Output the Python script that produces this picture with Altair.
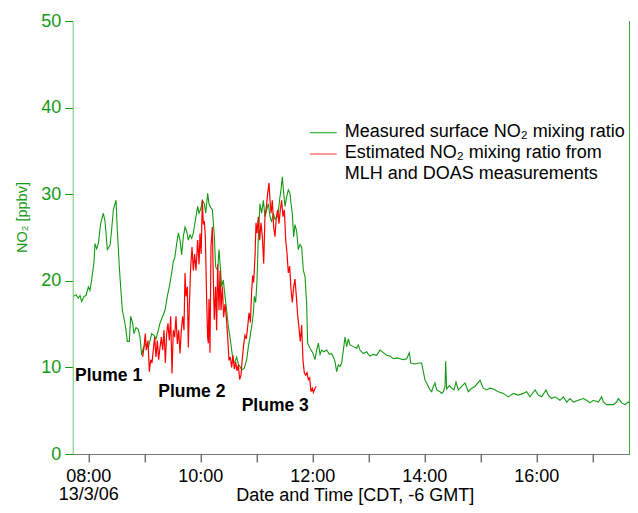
import altair as alt
import pandas as pd

# ---- data (decimal hours, CDT) ----
green_t = [7.733, 7.780, 7.822, 7.852, 7.882, 7.923, 7.959, 8.001, 8.030, 8.060, 8.102, 8.120, 8.149, 8.179,
           8.221, 8.268, 8.298, 8.340, 8.388, 8.417, 8.447, 8.495, 8.518, 8.554, 8.578, 8.608, 8.643, 8.673,
           8.697, 8.733, 8.757, 8.792, 8.816, 8.852, 8.893, 8.923, 8.953, 8.983, 9.030, 9.072, 9.102, 9.132,
           9.173, 9.209, 9.251, 9.280, 9.328, 9.370, 9.411, 9.447, 9.489, 9.518, 9.548, 9.578, 9.608, 9.638,
           9.667, 9.697, 9.727, 9.757, 9.786, 9.816, 9.846, 9.875, 9.905, 9.953, 9.977, 10.013, 10.036, 10.072,
           10.096, 10.132, 10.155, 10.191, 10.215, 10.251, 10.274, 10.310, 10.334, 10.358, 10.382, 10.411,
           10.441, 10.471, 10.501, 10.530, 10.560, 10.590, 10.620, 10.649, 10.679, 10.709, 10.739, 10.786,
           10.828, 10.858, 10.888, 10.917, 10.947, 10.965, 10.989, 11.013, 11.036, 11.066, 11.096, 11.126,
           11.155, 11.185, 11.215, 11.245, 11.274, 11.304, 11.334, 11.382, 11.423, 11.441, 11.465, 11.489,
           11.513, 11.542, 11.572, 11.602, 11.620, 11.643, 11.667, 11.691, 11.721, 11.750, 11.780, 11.810,
           11.840, 11.870, 11.899, 11.917, 11.959, 12.007, 12.048, 12.078, 12.108, 12.138, 12.167, 12.209,
           12.257, 12.304, 12.346, 12.376, 12.405, 12.435, 12.465, 12.495, 12.524, 12.554, 12.584, 12.614,
           12.643, 12.673, 12.733, 12.792, 12.822, 12.852, 12.911, 12.971, 13.001, 13.030, 13.090, 13.149,
           13.209, 13.268, 13.328, 13.388, 13.447, 13.507, 13.566, 13.626, 13.685, 13.733, 13.757, 13.834,
           13.893, 13.953, 13.983, 14.013, 14.042, 14.072, 14.102, 14.132, 14.161, 14.191, 14.221, 14.280,
           14.310, 14.340, 14.370, 14.382, 14.399, 14.447, 14.489, 14.530, 14.566, 14.608, 14.667, 14.727,
           14.786, 14.846, 14.905, 14.995, 15.054, 15.114, 15.173, 15.233, 15.322, 15.411, 15.501, 15.590,
           15.679, 15.768, 15.828, 15.887, 15.977, 16.036, 16.096, 16.173, 16.215, 16.275, 16.334, 16.423,
           16.483, 16.542, 16.602, 16.661, 16.750, 16.840, 16.899, 16.959, 17.018, 17.108, 17.167, 17.197,
           17.256, 17.375, 17.435, 17.465, 17.524, 17.584, 17.643, 17.703, 17.762, 17.792]
green_v = [18.2, 18.4, 18.0, 18.3, 17.6, 18.2, 18.3, 19.3, 18.9, 20.1, 22.2, 24.3, 23.7, 24.3,
           26.6, 27.8, 26.9, 23.6, 24.1, 25.9, 28.2, 29.3, 25.9, 21.6, 19.3, 16.6, 15.5, 14.3,
           13.0, 13.0, 15.9, 15.1, 13.9, 14.6, 14.4, 13.5, 11.4, 12.3, 12.7, 12.3, 13.1, 13.9,
           13.7, 13.3, 14.3, 15.1, 15.9, 16.6, 18.2, 19.3, 20.9, 22.2, 22.8, 24.3, 25.5, 24.7,
           23.0, 25.1, 26.2, 25.7, 24.7, 25.3, 24.9, 25.5, 26.7, 28.6, 27.8, 28.4, 29.3, 28.9,
           27.8, 30.1, 28.9, 28.4, 28.2, 25.1, 21.6, 21.2, 23.6, 21.6, 19.3, 20.1,
           18.2, 16.6, 14.7, 13.5, 12.0, 10.5, 10.7, 11.2, 10.4, 10.1, 9.7, 9.9,
           10.9, 12.4, 13.5, 14.7, 16.2, 18.2, 17.5, 20.1, 25.1, 28.9, 27.8, 29.3,
           27.4, 28.2, 28.9, 27.4, 26.8, 27.8, 27.1, 27.4, 29.7, 30.5, 32.0, 30.1,
           28.6, 29.7, 30.5, 30.1, 28.9, 27.8, 25.1, 26.5, 25.7, 23.6, 24.2, 23.9,
           21.2, 20.5, 17.4, 12.8, 12.2, 11.7, 10.9, 12.0, 12.8, 11.5, 12.0, 11.8,
           12.0, 11.5, 11.6, 11.2, 10.7, 9.5, 10.3, 10.1, 10.5, 12.0, 13.5, 12.4,
           13.3, 12.6, 12.4, 12.2, 12.6, 12.0, 11.6, 11.8, 11.5, 11.3, 11.5, 11.4,
           12.0, 11.7, 11.4, 11.3, 11.0, 11.1, 11.0, 10.9, 11.0, 11.7, 10.5, 10.4,
           10.5, 10.5, 9.5, 8.5, 8.2, 7.8, 7.4, 7.2, 7.8, 8.2, 7.4, 7.2,
           7.0, 7.2, 7.8, 10.7, 7.5, 7.9, 7.6, 7.4, 8.3, 7.4, 7.8, 8.2,
           7.2, 7.6, 7.8, 8.5, 7.6, 7.4, 7.6, 7.5, 7.2, 7.0, 6.6, 7.0,
           6.8, 7.0, 7.2, 6.6, 7.4, 6.8, 6.6, 7.4, 6.8, 6.4, 6.6, 6.2,
           6.6, 6.0, 6.4, 6.0, 6.2, 6.4, 6.2, 5.9, 6.2, 6.0, 6.6, 6.0,
           5.7, 5.7, 6.0, 6.4, 5.9, 5.7, 6.0, 5.7, 6.2, 6.0]

red_t = [8.971, 8.995, 9.018, 9.036, 9.066, 9.090, 9.114, 9.137, 9.161, 9.185, 9.209, 9.233, 9.256,
         9.280, 9.304, 9.328, 9.352, 9.376, 9.399, 9.423, 9.447, 9.471, 9.495, 9.518, 9.542, 9.566,
         9.590, 9.614, 9.638, 9.661, 9.685, 9.709, 9.727, 9.745, 9.768, 9.786, 9.804, 9.828, 9.852,
         9.876, 9.899, 9.923, 9.953, 9.977, 9.995, 10.015, 10.036, 10.054, 10.072, 10.090, 10.113,
         10.131, 10.143, 10.155, 10.173, 10.191, 10.215, 10.233, 10.250, 10.274, 10.292, 10.310,
         10.334, 10.352, 10.370, 10.394, 10.417, 10.441, 10.465, 10.489, 10.513, 10.536, 10.560,
         10.584, 10.608, 10.632, 10.655, 10.679, 10.703, 10.727, 10.750, 10.774, 10.798, 10.822,
         10.846, 10.870, 10.894, 10.917, 10.935, 10.953, 10.977, 10.995, 11.013, 11.036, 11.060,
         11.084, 11.108, 11.132, 11.155, 11.179, 11.203, 11.227, 11.245, 11.263, 11.286, 11.310,
         11.334, 11.358, 11.382, 11.405, 11.429, 11.453, 11.477, 11.501, 11.525, 11.548, 11.572,
         11.596, 11.620, 11.643, 11.667, 11.691, 11.715, 11.739, 11.763, 11.786, 11.810, 11.834,
         11.857, 11.881, 11.905, 11.929, 11.953, 11.977, 12.001, 12.019, 12.048, 12.070]
red_v = [11.2, 12.3, 13.9, 12.0, 13.1, 9.5, 10.9, 10.5, 12.0, 13.5, 11.2, 13.1, 10.9,
         12.3, 13.5, 12.0, 14.3, 10.5, 13.9, 15.1, 13.1, 15.9, 9.3, 14.3, 13.5, 15.9,
         12.7, 14.3, 11.6, 14.3, 15.9, 14.3, 20.9, 18.2, 19.3, 12.3, 17.0, 21.6, 23.9,
         21.2, 23.1, 21.2, 24.7, 21.9, 25.5, 23.1, 29.3, 26.5, 26.9, 25.1, 17.9,
         13.5, 12.8, 17.9, 11.7, 24.0, 26.2, 20.1, 15.5, 19.3, 14.3, 21.9,
         16.6, 21.2, 16.6, 19.3, 15.8, 17.3, 15.8, 13.5, 10.8, 11.2, 10.0,
         11.4, 9.8, 10.6, 9.6, 10.3, 8.6, 9.1, 11.0, 12.6, 13.7, 13.3,
         14.7, 16.3, 15.2, 18.7, 20.6, 19.8, 22.8, 26.7, 25.5, 27.4, 24.7,
         26.7, 25.1, 22.0, 27.4, 28.5, 30.1, 31.3, 29.3, 27.8, 29.3, 26.2,
         25.1, 27.4, 28.2, 26.6, 28.2, 29.3, 27.4, 28.2, 24.7, 23.2, 20.9,
         21.7, 19.0, 17.5, 19.3, 20.2, 18.2, 16.0, 14.5, 13.0, 14.9, 10.8,
         9.4, 9.1, 9.4, 8.6, 8.8, 7.2, 7.6, 7.1, 7.6, 7.8]

legend_labels = ["Measured surface NO\u2082 mixing ratio", "Estimated NO\u2082 mixing ratio from",
                 "MLH and DOAS measurements"]
plume_labels = ["Plume 1", "Plume 2", "Plume 3"]
plume_t = [7.7625, 9.25, 10.739]
plume_v = [9.0, 7.19, 5.54]

hour_ticks = [8, 9, 10, 11, 12, 13, 14, 15, 16, 17]
x_domain = [7.7214, 17.668]
y_ticks = [0, 10, 20, 30, 40, 50]

GREEN = "#149914"
RED = "#ff0000"
FONT = "Liberation Sans"
FS = 18
W, H = 557, 433

green_df = pd.DataFrame({"t": green_t, "v": green_v})
red_df = pd.DataFrame({"t": red_t, "v": red_v})
plume_df = pd.DataFrame({"t": plume_t, "v": plume_v, "label": plume_labels})

x_scale = alt.Scale(domain=x_domain, nice=False, zero=False)
y_scale = alt.Scale(domain=[0, 50], nice=False)

x_axis = alt.Axis(
    values=hour_ticks,
    labelExpr="datum.value == 8 ? ['08:00', '13/3/06'] : (datum.value % 2 == 0 ? (datum.value < 10 ? '0' : '') + datum.value + ':00' : '')",
    title="Date and Time [CDT, -6 GMT]",
    titleFont=FONT, titleFontSize=FS, titleFontWeight="normal", titleColor="#000000",
    titleX=282, titleY=46.5, titleBaseline="alphabetic",
    labelFont=FONT, labelFontSize=FS, labelColor="#000000", labelLineHeight=18.5,
    labelPadding=5, labelOverlap=False, labelFlush=False,
    tickSize=8, tickColor="#333333", domainColor="#777777", grid=False,
)
y_axis = alt.Axis(
    values=y_ticks,
    title="NO\u2082 [ppbv]",
    titleFont=FONT, titleFontSize=14.5, titleFontWeight="normal", titleColor=GREEN,
    titleX=-50, titleY=196, titleAlign="center", titleBaseline="middle",
    labelFont=FONT, labelFontSize=FS, labelColor=GREEN, labelPadding=4,
    tickSize=8, tickColor=GREEN, domainColor="#6cc86c", grid=False,
)

green_line = alt.Chart(green_df).mark_line(color=GREEN, strokeWidth=1.1, clip=True).encode(
    x=alt.X("t:Q", scale=x_scale, axis=x_axis),
    y=alt.Y("v:Q", scale=y_scale, axis=y_axis),
)
red_line = alt.Chart(red_df).mark_line(color=RED, strokeWidth=1.2, clip=True).encode(
    x=alt.X("t:Q", scale=x_scale),
    y=alt.Y("v:Q", scale=y_scale),
)
plumes = alt.Chart(plume_df).mark_text(
    font=FONT, fontSize=17.5, fontWeight="bold", align="left", baseline="middle", color="#000000"
).encode(x=alt.X("t:Q", scale=x_scale), y=alt.Y("v:Q", scale=y_scale), text="label:N")

right_border = alt.Chart(pd.DataFrame({"t": [x_domain[1]]})).mark_rule(
    color="#2f9f2f", strokeWidth=1.2
).encode(x=alt.X("t:Q", scale=x_scale), y=alt.value(0), y2=alt.value(H))

one = pd.DataFrame({"a": [0]})
leg_green = alt.Chart(one).mark_rule(color="#33b533", strokeWidth=1.2).encode(
    x=alt.value(237), x2=alt.value(264), y=alt.value(111.7))
leg_red = alt.Chart(one).mark_rule(color="#ff5555", strokeWidth=1.2).encode(
    x=alt.value(237), x2=alt.value(264), y=alt.value(133))

leg_rows_y = [110.5, 132, 152.5]
leg_texts = [
    alt.Chart(one).mark_text(
        font=FONT, fontSize=FS, align="left", baseline="middle", color="#000000", text=lab
    ).encode(x=alt.value(272), y=alt.value(yy))
    for lab, yy in zip(legend_labels, leg_rows_y)
]

chart = alt.layer(green_line, red_line, plumes, right_border, leg_green, leg_red, *leg_texts).properties(
    width=W, height=H,
    padding={"left": 64.7, "top": 13, "right": 0.3, "bottom": 51},
    autosize=alt.AutoSizeParams(type="none"),
).configure_view(stroke=None)

chart.save("out.html", embed_options={"renderer": "svg", "actions": False})
